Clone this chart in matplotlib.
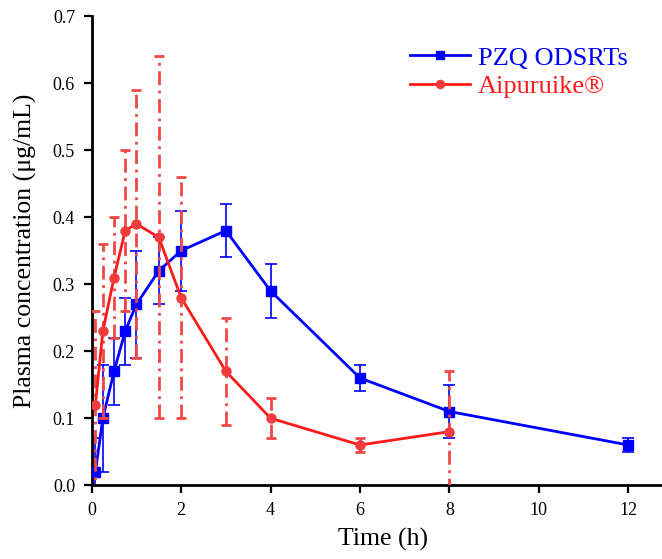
import matplotlib
matplotlib.use("Agg")
import matplotlib.pyplot as plt

t_blue = [0.083, 0.25, 0.5, 0.75, 1.0, 1.5, 2.0, 3.0, 4.0, 6.0, 8.0, 12.0]
c_blue = [0.02, 0.10, 0.17, 0.23, 0.27, 0.32, 0.35, 0.38, 0.29, 0.16, 0.11, 0.06]
e_blue = [0.05, 0.08, 0.05, 0.05, 0.08, 0.05, 0.06, 0.04, 0.04, 0.02, 0.04, 0.01]

t_red = [0.083, 0.25, 0.5, 0.75, 1.0, 1.5, 2.0, 3.0, 4.0, 6.0, 8.0]
c_red = [0.12, 0.23, 0.31, 0.38, 0.39, 0.37, 0.28, 0.17, 0.10, 0.06, 0.08]
e_red = [0.14, 0.13, 0.09, 0.12, 0.20, 0.27, 0.18, 0.08, 0.03, 0.01, 0.09]

xticks = [0, 2, 4, 6, 8, 10, 12]
yticks = [0.0, 0.1, 0.2, 0.3, 0.4, 0.5, 0.6, 0.7]

plt.rcParams['font.family'] = ['Liberation Serif', 'DejaVu Serif']

fig = plt.figure(figsize=(6.62, 5.59), dpi=100)
ax = fig.add_axes([0.1385, 0.132, 0.862, 0.839])

blue = '#0000ff'
red = '#ff1a1a'
red_err = '#f04848'

ax.errorbar(t_blue, c_blue, yerr=e_blue, fmt='none', ecolor=blue,
            elinewidth=1.2, capsize=4, capthick=1.2, zorder=2)
ax.plot(t_blue, c_blue, color=blue, lw=2, marker='s', ms=6.5,
        label='PZQ ODSRTs', zorder=3)

eb_r = ax.errorbar(t_red, c_red, yerr=e_red, fmt='none', ecolor=red_err,
                   elinewidth=2, capsize=3.5, capthick=2, zorder=4)
eb_r[2][0].set_linestyle((0, (5, 2, 1, 2)))
ax.plot(t_red, c_red, color=red, lw=2, marker='o', ms=6.5,
        markerfacecolor='#f03c3c', markeredgecolor='#f03c3c',
        label='Aipuruike®', zorder=5)

ax.set_xlim(0, 12.76)
ax.set_ylim(0, 0.7)
ax.set_xticks(xticks)
ax.set_yticks(yticks)
ax.set_yticklabels([f'{v:.1f}' for v in yticks])
ax.spines['top'].set_visible(False)
ax.spines['right'].set_visible(False)
for s in ['left', 'bottom']:
    ax.spines[s].set_linewidth(2)
ax.tick_params(axis='both', direction='out', length=6, width=1.6,
               labelsize=13, pad=6)

ax.set_xlabel('Time (h)', fontsize=18.5)
ax.xaxis.set_label_coords(0.51, -0.09)
ax.set_ylabel('Plasma concentration (μg/mL)', fontsize=18.5, labelpad=11)

leg = ax.legend(loc='upper left', bbox_to_anchor=(399.5 / 662, 1 - 35.5 / 559),
                bbox_transform=fig.transFigure, borderaxespad=0,
                frameon=False, fontsize=19, handlelength=2.27,
                handletextpad=0.3, labelspacing=0.2, markerscale=0.9)
for txt, col in zip(leg.get_texts(), [blue, red]):
    txt.set_color(col)

fig.savefig('out.png', dpi=100)
